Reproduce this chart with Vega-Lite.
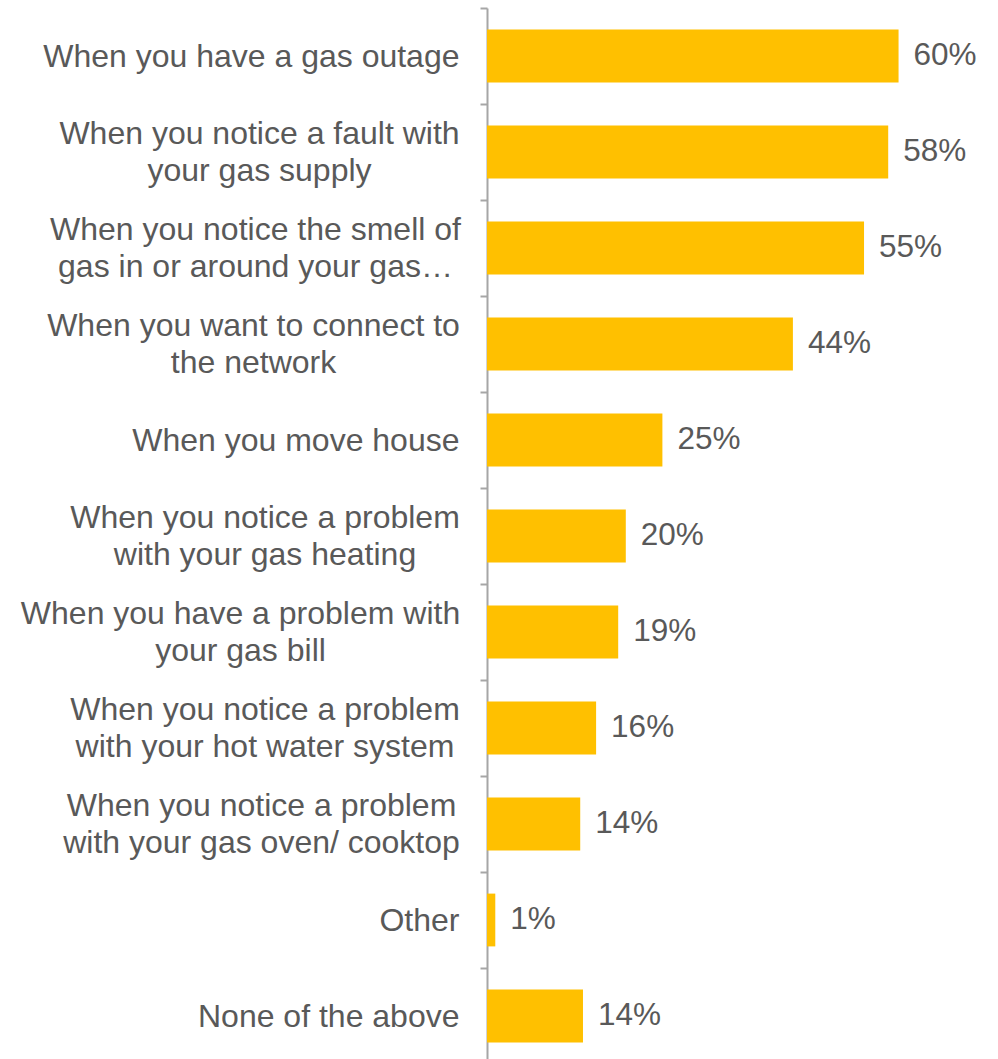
{
  "$schema": "https://vega.github.io/schema/vega-lite/v6.json",
  "autosize": {"type": "none"},
  "padding": {"left": 487, "top": 8, "right": 0, "bottom": 0},
  "width": 511,
  "height": 1056,
  "background": "white",
  "config": {"view": {"stroke": null}, "font": "Liberation Sans"},
  "data": {
    "values": [
      {"category": "When you have a gas outage", "value": 59.6, "label": "60%"},
      {"category": "When you notice a fault with|your gas supply", "value": 58.1, "label": "58%"},
      {"category": "When you notice the smell of|gas in or around your gas…", "value": 54.6, "label": "55%"},
      {"category": "When you want to connect to|the network", "value": 44.3, "label": "44%"},
      {"category": "When you move house", "value": 25.4, "label": "25%"},
      {"category": "When you notice a problem|with your gas heating", "value": 20.1, "label": "20%"},
      {"category": "When you have a problem with|your gas bill", "value": 19.0, "label": "19%"},
      {"category": "When you notice a problem|with your hot water system", "value": 15.8, "label": "16%"},
      {"category": "When you notice a problem|with your gas oven/ cooktop", "value": 13.5, "label": "14%"},
      {"category": "Other", "value": 1.2, "label": "1%"},
      {"category": "None of the above", "value": 13.9, "label": "14%"}
    ]
  },
  "encoding": {
    "y": {
      "field": "category",
      "type": "nominal",
      "sort": null,
      "scale": {"paddingInner": 0.45, "paddingOuter": 0.225},
      "axis": {
        "title": null,
        "labelExpr": "split(datum.label, '|')",
        "labelFontSize": 32,
        "labelColor": "#595959",
        "labelFont": "Liberation Sans",
        "labelLimit": 480,
        "labelLineHeight": 37,
        "labelAlign": {"condition": {"test": "indexof(datum.value, '|') >= 0", "value": "center"}, "value": "right"},
        "labelPadding": {
          "condition": [
            {"test": "indexof(datum.value, 'fault') >= 0", "value": 221},
            {"test": "indexof(datum.value, 'smell') >= 0", "value": 225},
            {"test": "indexof(datum.value, 'connect') >= 0", "value": 227},
            {"test": "indexof(datum.value, 'heating') >= 0", "value": 215.5},
            {"test": "indexof(datum.value, 'bill') >= 0", "value": 240},
            {"test": "indexof(datum.value, 'hot water') >= 0", "value": 215.5},
            {"test": "indexof(datum.value, 'oven') >= 0", "value": 219}
          ],
          "value": 21
        },
        "labelOffset": {"condition": {"test": "indexof(datum.value, '|') >= 0", "value": 29.5}, "value": 48},
        "tickSize": 7,
        "tickColor": "#a6a6a6",
        "tickWidth": 2,
        "tickOffset": -48,
        "domainColor": "#a6a6a6",
        "domainWidth": 2
      }
    },
    "x": {
      "field": "value",
      "type": "quantitative",
      "scale": {"domain": [0, 74]},
      "axis": null
    }
  },
  "layer": [
    {"mark": {"type": "bar", "color": "#FFC000"}},
    {
      "mark": {"type": "text", "align": "left", "baseline": "middle", "dx": 15, "fontSize": 31.5, "color": "#595959", "font": "Liberation Sans"},
      "encoding": {"text": {"field": "label"}}
    }
  ]
}
